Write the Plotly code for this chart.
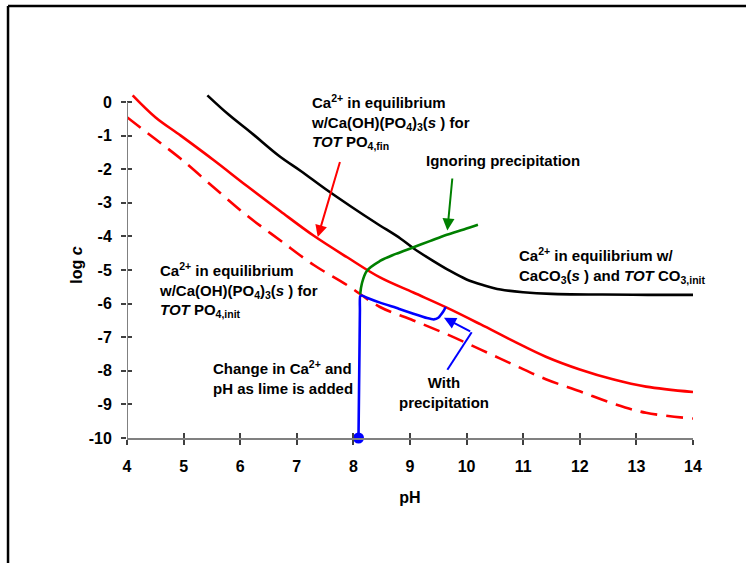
import plotly.graph_objects as go

FONT = "Liberation Sans, Arial, sans-serif"

# ---- data ----
black_ph = [5.42, 5.8, 6.2, 6.7, 7.07, 7.5, 7.95, 8.4, 8.83, 9.06, 9.4, 9.7, 10.0, 10.3, 10.6, 11.0, 11.5, 12.4, 13.2, 14.0]
black_logc = [0.2, -0.38, -0.92, -1.62, -2.05, -2.58, -3.1, -3.6, -4.06, -4.35, -4.72, -5.02, -5.28, -5.45, -5.58, -5.66, -5.71, -5.73, -5.74, -5.74]

red_ph = [4.1, 4.5, 4.95, 5.54, 6.12, 6.71, 7.3, 7.89, 8.47, 9.06, 9.65, 10.25, 10.82, 11.4, 12.0, 12.6, 13.17, 14.0]
red_logc = [0.2, -0.45, -1.0, -1.74, -2.5, -3.25, -3.98, -4.62, -5.22, -5.67, -6.12, -6.62, -7.11, -7.58, -7.96, -8.26, -8.47, -8.63]

dash_ph = [4.0, 4.5, 4.95, 5.54, 6.12, 6.71, 7.3, 7.89, 8.47, 9.06, 9.65, 10.25, 10.82, 11.4, 12.0, 12.6, 13.17, 14.0]
dash_logc = [-0.45, -1.1, -1.69, -2.55, -3.38, -4.12, -4.85, -5.45, -6.1, -6.5, -6.91, -7.37, -7.81, -8.25, -8.61, -8.98, -9.25, -9.42]

green_ph = [8.12, 8.15, 8.24, 8.47, 8.75, 9.05, 9.35, 9.65, 9.95, 10.2]
green_logc = [-5.72, -5.4, -5.02, -4.73, -4.52, -4.33, -4.14, -3.95, -3.79, -3.65]

blue_ph = [8.09, 8.1, 8.11, 8.115, 8.12, 8.15, 8.25, 8.47, 8.8, 9.06, 9.3, 9.42, 9.5, 9.56, 9.6, 9.63]
blue_logc = [-10.0, -8.5, -7.0, -6.2, -5.78, -5.76, -5.83, -5.97, -6.15, -6.3, -6.43, -6.47, -6.42, -6.3, -6.2, -6.1]

start_ph = [8.09]
start_logc = [-10.0]

x_ticks = [4, 5, 6, 7, 8, 9, 10, 11, 12, 13, 14]
y_ticks = [0, -1, -2, -3, -4, -5, -6, -7, -8, -9, -10]

fig = go.Figure()
fig.add_trace(go.Scatter(x=black_ph, y=black_logc, mode="lines", line=dict(color="black", width=2.6, shape="spline"), showlegend=False))
fig.add_trace(go.Scatter(x=red_ph, y=red_logc, mode="lines", line=dict(color="#ff0000", width=2.6, shape="spline"), showlegend=False))
fig.add_trace(go.Scatter(x=dash_ph, y=dash_logc, mode="lines", line=dict(color="#ff0000", width=2.6, shape="spline", dash="17px,9px"), showlegend=False))
fig.add_trace(go.Scatter(x=green_ph, y=green_logc, mode="lines", line=dict(color="#008000", width=2.6, shape="spline"), showlegend=False))
fig.add_trace(go.Scatter(x=blue_ph, y=blue_logc, mode="lines", line=dict(color="#0000ff", width=2.6, shape="spline", smoothing=0.6), showlegend=False))
fig.add_trace(go.Scatter(x=start_ph, y=start_logc, mode="markers", marker=dict(color="#0000ff", size=11), cliponaxis=False, showlegend=False))
# invisible trace for the overlay axes (inside half of the cross ticks)
fig.add_trace(go.Scatter(x=[4], y=[-10], xaxis="x2", yaxis="y2", mode="markers", marker=dict(opacity=0), showlegend=False, hoverinfo="skip"))

tickfont = dict(family=FONT, size=16, color="black", weight="bold")
fig.update_layout(
    width=746, height=563,
    margin=dict(l=127, r=53, t=92, b=125),
    paper_bgcolor="white", plot_bgcolor="white",
    font=dict(family=FONT, color="black"),
    xaxis=dict(range=[4, 14], tickvals=x_ticks, ticktext=[str(v) for v in x_ticks],
               showgrid=False, zeroline=False, showline=True, linecolor="#808080", linewidth=2,
               ticks="outside", ticklen=5, tickwidth=1.5, tickcolor="#404040", tickfont=tickfont,
               ticklabelstandoff=8,
               title=dict(text="pH", font=dict(family=FONT, size=16, color="black", weight="bold"), standoff=18)),
    yaxis=dict(range=[-10, 0.3], tickvals=y_ticks, ticktext=[str(v) for v in y_ticks],
               showgrid=False, zeroline=False, showline=False,
               ticks="outside", ticklen=5, tickwidth=1.5, tickcolor="#404040", tickfont=tickfont,
               ticklabelstandoff=6,
               title=dict(text="log <i>c</i>", font=dict(family=FONT, size=16, color="black", weight="bold"), standoff=2)),
    xaxis2=dict(range=[4, 14], overlaying="x", anchor="y2", tickvals=x_ticks, showticklabels=False,
                showgrid=False, zeroline=False, showline=False, ticks="inside", ticklen=5, tickwidth=1.5, tickcolor="#404040"),
    yaxis2=dict(range=[-10, 0.3], overlaying="y", anchor="x2", tickvals=y_ticks[:-1], showticklabels=False,
                showgrid=False, zeroline=False, showline=False, ticks="inside", ticklen=5, tickwidth=1.5, tickcolor="#404040"),
)

# y axis line (stops at 0) and the outer frame
fig.add_shape(type="line", xref="x", yref="y", x0=4, x1=4, y0=-10, y1=0, line=dict(color="#808080", width=2))
fig.add_shape(type="line", xref="paper", yref="paper", x0=-0.2102, x1=1.2, y0=1.2486, y1=1.2486, line=dict(color="black", width=2.5))
fig.add_shape(type="line", xref="paper", yref="paper", x0=-0.2102, x1=-0.2102, y0=1.2486, y1=-0.4, line=dict(color="black", width=2.5))

afont = dict(family=FONT, size=15, color="black", weight="bold")

def note(text, x, y, xanchor="left", align="left"):
    fig.add_annotation(x=x, y=y, xref="x", yref="y", text=text, showarrow=False,
                       xanchor=xanchor, yanchor="middle", align=align, font=afont)

note("Ca<sup>2+</sup> in equilibrium<br>w/Ca(OH)(PO<sub>4</sub>)<sub>3</sub>(<i>s</i> ) for<br><i>TOT</i> PO<sub>4,fin</sub>", 7.22, -0.6)
note("Ignoring precipitation", 10.64, -1.74, xanchor="center", align="center")
note("Ca<sup>2+</sup> in equilibrium w/<br>CaCO<sub>3</sub>(<i>s</i> ) and <i>TOT</i> CO<sub>3,init</sub>", 10.89, -4.87)
note("Ca<sup>2+</sup> in equilibrium<br>w/Ca(OH)(PO<sub>4</sub>)<sub>3</sub>(<i>s</i> ) for<br><i>TOT</i> PO<sub>4,init</sub>", 4.53, -5.6)
note("Change in Ca<sup>2+</sup> and<br>pH as lime is added", 5.48, -8.2)
note("With<br>precipitation", 9.6, -8.65, xanchor="center", align="center")

def arrow(x0, y0, x1, y1, color):
    fig.add_annotation(x=x1, y=y1, ax=x0, ay=y0, xref="x", yref="y", axref="x", ayref="y",
                       text="", showarrow=True, arrowhead=2, arrowsize=1.2, arrowwidth=2, arrowcolor=color)

arrow(7.77, -1.74, 7.37, -4.02, "#ff0000")
arrow(9.75, -2.23, 9.66, -3.82, "#008000")
fig.add_shape(type="line", xref="x", yref="y", x0=9.66, y0=-7.97, x1=10.09, y1=-6.85, line=dict(color="#0000ff", width=2))
arrow(10.09, -6.85, 9.6, -6.42, "#0000ff")

fig.write_html("out.html")
